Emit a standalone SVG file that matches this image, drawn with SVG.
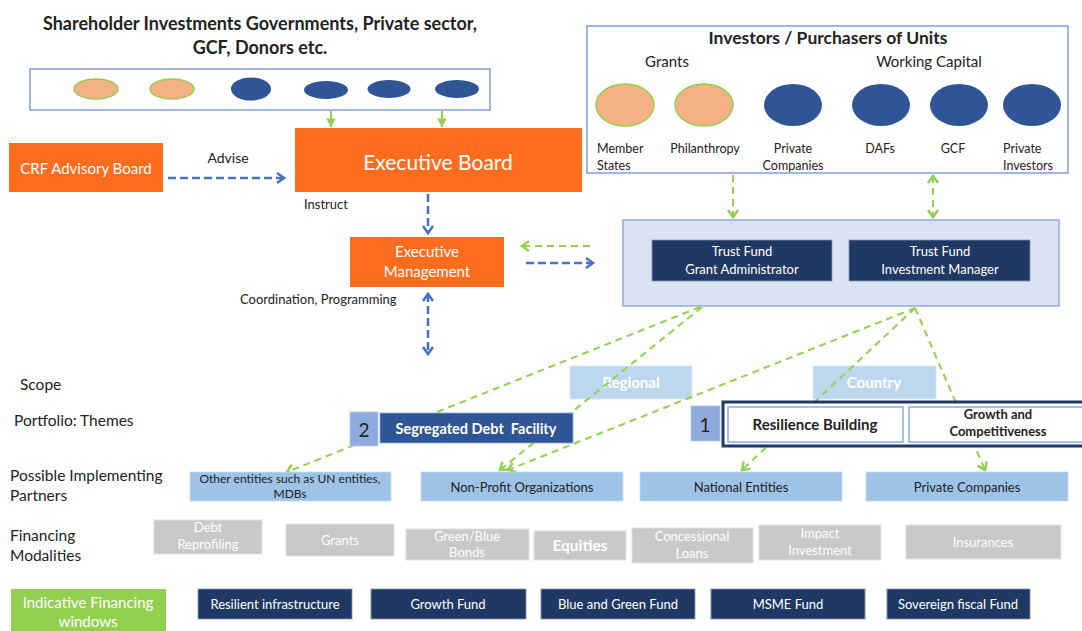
<svg xmlns="http://www.w3.org/2000/svg" width="1082" height="631" viewBox="0 0 1082 631">
<defs>
<style>
text{font-family:Lato,"Liberation Sans",sans-serif;}
.t{fill:#222;}
.w{fill:#fff;}
.b{font-weight:bold;}
.c{text-anchor:middle;}
.orange{fill:#fe6c1e;}
.navy{fill:#203864;stroke:#8497b0;stroke-width:0.8;}
.mid{fill:#2f5597;stroke:#8faadc;stroke-width:0.8;}
.part{fill:#9dc3e6;stroke:#c5dcf0;stroke-width:0.8;}
.scope{fill:#bdd7ee;stroke:#d6e6f5;stroke-width:0.8;}
.gray{fill:#c9c9c9;stroke:#e2e2e2;stroke-width:1;}
.num{fill:#8faadc;stroke:#b4c7e7;stroke-width:0.8;}
.peach{fill:#f4b183;stroke:#92d050;stroke-width:1.5;}
.dark{fill:#2f5597;}
.bd{fill:none;stroke:#4472c4;stroke-width:2.5;stroke-dasharray:8 4;}
.gd{fill:none;stroke:#92d050;stroke-width:2;stroke-dasharray:7 5;}
.gs{fill:none;stroke:#92d050;stroke-width:2;}
</style>
<marker id="ab" markerUnits="userSpaceOnUse" markerWidth="14" markerHeight="14" viewBox="-10 -7 12 14" refX="0" refY="0" orient="auto-start-reverse">
<path d="M-7,-5 L0,0 L-7,5" fill="none" stroke="#4472c4" stroke-width="2.5" stroke-dasharray="none"/>
</marker>
<marker id="ag" markerUnits="userSpaceOnUse" markerWidth="14" markerHeight="14" viewBox="-10 -7 12 14" refX="0" refY="0" orient="auto-start-reverse">
<path d="M-7,-5 L0,0 L-7,5" fill="none" stroke="#92d050" stroke-width="2.5" stroke-dasharray="none"/>
</marker>
<marker id="agf" markerUnits="userSpaceOnUse" markerWidth="12" markerHeight="12" viewBox="-8 -5 10 10" refX="0" refY="0" orient="auto-start-reverse">
<path d="M-7,-4 L0,0 L-7,4 Z" fill="#92d050" stroke="none"/>
</marker>
</defs>
<rect width="1082" height="631" fill="#fff"/>

<g id="shareholders">
<text class="t b c" x="260" y="30" font-size="18">Shareholder Investments Governments, Private sector,</text>
<text class="t b c" x="260" y="54" font-size="18">GCF, Donors etc.</text>
<rect x="30" y="69" width="460" height="41" fill="#fff" stroke="#6f8fd8" stroke-width="1.3"/>
<ellipse class="peach" cx="96" cy="89" rx="22" ry="10"/>
<ellipse class="peach" cx="172" cy="89" rx="22" ry="10"/>
<ellipse class="dark" cx="251" cy="89" rx="20" ry="11.5"/>
<ellipse class="dark" cx="326" cy="90" rx="22" ry="9"/>
<ellipse class="dark" cx="389" cy="89" rx="21.5" ry="9"/>
<ellipse class="dark" cx="457" cy="89" rx="22" ry="9"/>
</g>

<g id="crf-advisory-board">
<rect class="orange" x="9" y="143" width="154" height="49"/>
<text class="w c" x="86" y="174" font-size="15">CRF Advisory Board</text>
</g>

<g id="executive-board">
<rect class="orange" x="295" y="128" width="287" height="64"/>
<text class="w c" x="438" y="170" font-size="21">Executive Board</text>
</g>

<g id="executive-management">
<rect class="orange" x="350" y="237" width="154" height="50"/>
<text class="w c" x="427" y="257" font-size="15">Executive</text>
<text class="w c" x="427" y="277" font-size="15">Management</text>
</g>

<g id="investors">
<rect x="587" y="26" width="481" height="147" fill="#fff" stroke="#6f8fd8" stroke-width="1.3"/>
<text class="t b c" x="828" y="44" font-size="17.5">Investors / Purchasers of Units</text>
<text class="t c" x="667" y="67" font-size="15">Grants</text>
<text class="t c" x="929" y="67" font-size="15">Working Capital</text>
<ellipse class="peach" cx="625" cy="105" rx="29" ry="21"/>
<ellipse class="peach" cx="704" cy="105" rx="29" ry="21"/>
<ellipse class="dark" cx="793" cy="105" rx="29" ry="21"/>
<ellipse class="dark" cx="881" cy="105" rx="29" ry="21"/>
<ellipse class="dark" cx="959" cy="105" rx="29" ry="21"/>
<ellipse class="dark" cx="1032" cy="105" rx="29" ry="21"/>
<text class="t" x="597" y="153" font-size="12.5">Member</text>
<text class="t" x="597" y="170" font-size="12.5">States</text>
<text class="t c" x="705" y="153" font-size="12.5">Philanthropy</text>
<text class="t c" x="793" y="153" font-size="12.5">Private</text>
<text class="t c" x="793" y="170" font-size="12.5">Companies</text>
<text class="t c" x="880" y="153" font-size="12.5">DAFs</text>
<text class="t c" x="953" y="153" font-size="12.5">GCF</text>
<text class="t" x="1003" y="153" font-size="12.5">Private</text>
<text class="t" x="1003" y="170" font-size="12.5">Investors</text>
</g>

<g id="trust-fund">
<rect x="623" y="220" width="436" height="86" fill="#dae3f3" stroke="#8faadc" stroke-width="1.5"/>
<rect class="navy" x="652" y="240" width="180" height="41"/>
<text class="w c" x="742" y="256" font-size="13">Trust Fund</text>
<text class="w c" x="742" y="274" font-size="13">Grant Administrator</text>
<rect class="navy" x="849" y="240" width="181" height="41"/>
<text class="w c" x="940" y="256" font-size="13">Trust Fund</text>
<text class="w c" x="940" y="274" font-size="13">Investment Manager</text>
</g>

<g id="labels">
<text class="t" x="304" y="209" font-size="13">Instruct</text>
<text class="t" x="228" y="163" font-size="14" text-anchor="middle">Advise</text>
<text class="t" x="240" y="304" font-size="13">Coordination, Programming</text>
<text class="t" x="20" y="390" font-size="15.5">Scope</text>
<text class="t" x="14" y="426" font-size="15.5">Portfolio: Themes</text>
<text class="t" x="10" y="481" font-size="15.5">Possible Implementing</text>
<text class="t" x="10" y="501" font-size="15.5">Partners</text>
<text class="t" x="10" y="541" font-size="15.5">Financing</text>
<text class="t" x="10" y="561" font-size="15.5">Modalities</text>
</g>

<g id="scope-regional">
<rect class="scope" x="570" y="366" width="122" height="33"/>
<text class="w b c" x="631" y="388" font-size="15">Regional</text>
</g>
<g id="scope-country">
<rect class="scope" x="813" y="366" width="123" height="33"/>
<text class="w b c" x="874" y="388" font-size="15">Country</text>
</g>

<g id="connectors">
<path class="gs" d="M331,111 L331,127" marker-end="url(#agf)"/>
<path class="gs" d="M442,111 L442,127" marker-end="url(#agf)"/>
<path class="bd" d="M168,178 L284,178" marker-end="url(#ab)"/>
<path class="bd" d="M428,194 L428,233" marker-end="url(#ab)"/>
<path class="gd" d="M590,246 L522,246" marker-end="url(#ag)"/>
<path class="bd" d="M526,263 L593,263" marker-end="url(#ab)"/>
<path class="bd" d="M428,294 L428,354" marker-start="url(#ab)" marker-end="url(#ab)"/>
<path class="gd" d="M733,175 L733,217" marker-end="url(#ag)"/>
<path class="gd" d="M933,176 L933,217" marker-start="url(#ag)" marker-end="url(#ag)"/>
<path class="gd" d="M700,307 L287,472" marker-end="url(#ag)"/>
<path class="gd" d="M702,307 L500,470" marker-end="url(#ag)"/>
<path class="gd" d="M915,308 L508,470" marker-end="url(#ag)"/>
<path class="gd" d="M915,308 L742,470" marker-end="url(#ag)"/>
<path class="gd" d="M915,308 L985,470" marker-end="url(#ag)"/>
</g>

<g id="theme-2">
<rect class="num" x="350" y="412" width="28" height="34"/>
<text class="t c" x="364" y="437" font-size="19">2</text>
</g>
<g id="segregated-debt-facility">
<rect class="mid" x="380" y="413" width="193" height="30"/>
<text class="w b c" x="476" y="434" font-size="14.5" xml:space="preserve">Segregated Debt  Facility</text>
</g>
<g id="theme-1">
<rect class="num" x="691" y="406" width="29" height="35"/>
<text class="t c" x="705" y="432" font-size="19">1</text>
</g>
<g id="theme-frame">
<rect x="723" y="402" width="370" height="44" fill="#fff" stroke="#203864" stroke-width="3"/>
</g>
<g id="resilience-building">
<rect x="728" y="407" width="175" height="35" fill="#fff" stroke="#8faadc" stroke-width="1.5"/>
<text class="t b c" x="815" y="430" font-size="15">Resilience Building</text>
</g>
<g id="growth-competitiveness">
<rect x="909" y="407" width="180" height="35" fill="#fff" stroke="#8faadc" stroke-width="1.5"/>
<text class="t b c" x="998" y="419" font-size="13">Growth and</text>
<text class="t b c" x="998" y="436" font-size="13">Competitiveness</text>
</g>

<g id="partner-other">
<rect class="part" x="190" y="472" width="201" height="29"/>
<text class="t c" x="290" y="483" font-size="12">Other entities such as UN entities,</text>
<text class="t c" x="290" y="498" font-size="12">MDBs</text>
</g>
<g id="partner-npo">
<rect class="part" x="421" y="472" width="202" height="29"/>
<text class="t c" x="522" y="492" font-size="13">Non-Profit Organizations</text>
</g>
<g id="partner-national">
<rect class="part" x="640" y="472" width="202" height="29"/>
<text class="t c" x="741" y="492" font-size="13">National Entities</text>
</g>
<g id="partner-private">
<rect class="part" x="866" y="472" width="202" height="29"/>
<text class="t c" x="967" y="492" font-size="13">Private Companies</text>
</g>

<g id="mod-debt">
<rect class="gray" x="154" y="520" width="108" height="34"/>
<text class="w c" x="208" y="532" font-size="13">Debt</text>
<text class="w c" x="208" y="549" font-size="13">Reprofiling</text>
</g>
<g id="mod-grants">
<rect class="gray" x="286" y="524" width="108" height="32"/>
<text class="w c" x="340" y="545" font-size="13">Grants</text>
</g>
<g id="mod-bonds">
<rect class="gray" x="406" y="529" width="123" height="31"/>
<text class="w c" x="467" y="541" font-size="13">Green/Blue</text>
<text class="w c" x="467" y="557" font-size="13">Bonds</text>
</g>
<g id="mod-equities">
<rect class="gray" x="534" y="531" width="92" height="29"/>
<text class="w b c" x="580" y="551" font-size="15.5">Equities</text>
</g>
<g id="mod-loans">
<rect class="gray" x="632" y="528" width="121" height="35"/>
<text class="w c" x="692" y="541" font-size="13">Concessional</text>
<text class="w c" x="692" y="558" font-size="13">Loans</text>
</g>
<g id="mod-impact">
<rect class="gray" x="759" y="525" width="122" height="35"/>
<text class="w c" x="820" y="538" font-size="13">Impact</text>
<text class="w c" x="820" y="555" font-size="13">Investment</text>
</g>
<g id="mod-insurances">
<rect class="gray" x="906" y="525" width="155" height="34"/>
<text class="w c" x="983" y="547" font-size="13">Insurances</text>
</g>

<g id="indicative-windows">
<rect x="11" y="589" width="155" height="46" fill="#92d050"/>
<text class="w c" x="88" y="608" font-size="15">Indicative Financing</text>
<text class="w c" x="88" y="627" font-size="15">windows</text>
</g>
<g id="win-resilient">
<rect class="navy" x="198" y="589" width="154" height="30"/>
<text class="w c" x="275" y="609" font-size="13">Resilient infrastructure</text>
</g>
<g id="win-growth">
<rect class="navy" x="371" y="589" width="155" height="30"/>
<text class="w c" x="448" y="609" font-size="13">Growth Fund</text>
</g>
<g id="win-bluegreen">
<rect class="navy" x="541" y="589" width="154" height="30"/>
<text class="w c" x="618" y="609" font-size="13">Blue and Green Fund</text>
</g>
<g id="win-msme">
<rect class="navy" x="711" y="589" width="154" height="30"/>
<text class="w c" x="788" y="609" font-size="13">MSME Fund</text>
</g>
<g id="win-sovereign">
<rect class="navy" x="887" y="589" width="143" height="30"/>
<text class="w c" x="958" y="609" font-size="13">Sovereign fiscal Fund</text>
</g>
</svg>
